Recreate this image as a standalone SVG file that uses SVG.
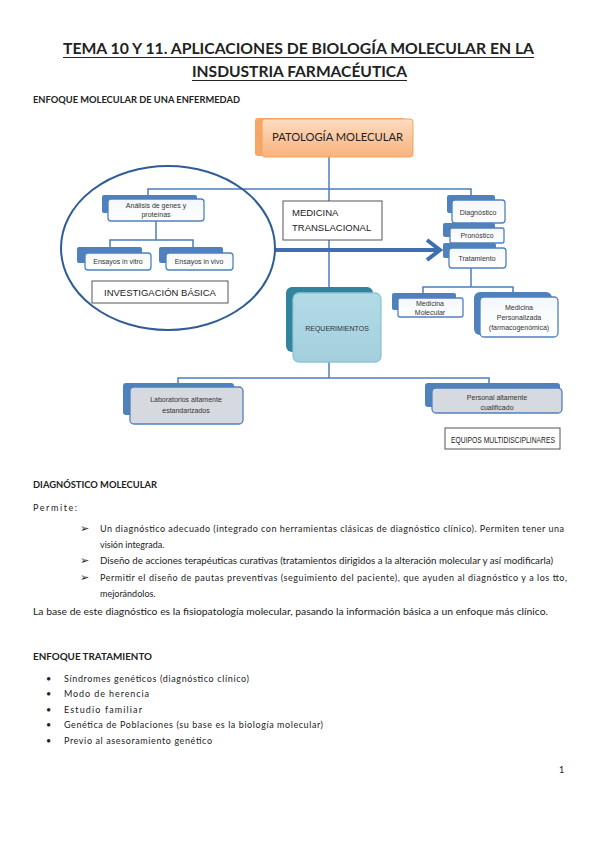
<svg xmlns="http://www.w3.org/2000/svg" width="599" height="848" viewBox="0 0 599 848">
<defs>
<linearGradient id="og" x1="0" y1="0" x2="0" y2="1"><stop offset="0" stop-color="#fddcc2"/><stop offset="1" stop-color="#f9b27c"/></linearGradient>
<linearGradient id="bg" x1="0" y1="0" x2="0" y2="1"><stop offset="0" stop-color="#f4f7fb"/><stop offset="1" stop-color="#ffffff"/></linearGradient>
<linearGradient id="tg" x1="0" y1="0" x2="0" y2="1"><stop offset="0" stop-color="#b2dbe6"/><stop offset="1" stop-color="#a3cfdd"/></linearGradient>
<style>
.t{font-family:Lato,"Liberation Sans",sans-serif;fill:#222}
.b{font-weight:bold}
.s{font-family:"Liberation Sans",sans-serif;font-size:7px;fill:#333;text-anchor:middle}
.back{fill:#4f81bd}
.front{fill:url(#bg);stroke:#4f81bd;stroke-width:1.3}
.grey{fill:#d6d9df;stroke:#4f81bd;stroke-width:1.3}
.lbl{fill:#fff;stroke:#555;stroke-width:1}
.lt{font-family:"Liberation Sans",sans-serif;font-size:9.5px;fill:#222}
.con{fill:none;stroke:#4a7ebb;stroke-width:1.5}
.chev{font-family:"DejaVu Sans",sans-serif;font-size:11px;fill:#222}
</style>
</defs>
<rect width="599" height="848" fill="#fff"/>

<g id="title">
<text class="t b" x="63" y="54" font-size="15.5" textLength="471" lengthAdjust="spacingAndGlyphs">TEMA 10 Y 11. APLICACIONES DE BIOLOGÍA MOLECULAR EN LA</text>
<line x1="63" y1="57.5" x2="534" y2="57.5" stroke="#222" stroke-width="1"/>
<text class="t b" x="192" y="77" font-size="15.5" textLength="215" lengthAdjust="spacingAndGlyphs">INSDUSTRIA FARMACÉUTICA</text>
<line x1="192" y1="80.5" x2="407" y2="80.5" stroke="#222" stroke-width="1"/>
<text class="t b" x="33" y="103" font-size="8.5" textLength="207" lengthAdjust="spacingAndGlyphs">ENFOQUE MOLECULAR DE UNA ENFERMEDAD</text>
</g>

<g id="connectors">
<line class="con" x1="329" y1="157" x2="329" y2="288"/>
<polyline class="con" points="148,199 148,189 471,189 471,196"/>
<line class="con" x1="156" y1="221" x2="156" y2="240"/>
<polyline class="con" points="110,248 110,240 193,240 193,248"/>
<line class="con" x1="471" y1="268" x2="471" y2="287"/>
<polyline class="con" points="423,294 423,287 513,287 513,293"/>
<line class="con" x1="329" y1="362" x2="329" y2="378"/>
<polyline class="con" points="178,384 178,378 489,378 489,384"/>
<line x1="275" y1="250" x2="439" y2="250" stroke="#3f6fb0" stroke-width="4"/>
<polyline points="427,240 440,250 427,260" fill="none" stroke="#3f6fb0" stroke-width="4" stroke-linejoin="miter"/>
</g>

<g id="investigacion">
<ellipse cx="168" cy="248" rx="107" ry="82" fill="none" stroke="#2f5d96" stroke-width="2"/>
</g>

<g id="patologia">
<rect x="255" y="118" width="150" height="38" rx="3" fill="#f6a766"/>
<rect x="262" y="119" width="151" height="38" rx="3" fill="url(#og)" stroke="#f5a35f" stroke-width="1"/>
<text class="t" x="337.5" y="141" font-size="10.5" text-anchor="middle" textLength="131" lengthAdjust="spacingAndGlyphs">PATOLOGÍA MOLECULAR</text>
</g>

<g id="analisis">
<rect class="back" x="102" y="195" width="95" height="18" rx="2"/>
<rect class="front" x="108" y="199" width="96" height="22" rx="3"/>
<text class="s" x="156" y="208">Análisis de genes y</text>
<text class="s" x="156" y="217">proteínas</text>
</g>

<g id="invitro">
<rect class="back" x="77" y="247" width="65" height="16" rx="2"/>
<rect class="front" x="85" y="253" width="66" height="17" rx="3"/>
<text class="s" x="118" y="264">Ensayos in vitro</text>
</g>

<g id="invivo">
<rect class="back" x="159" y="247" width="64" height="16" rx="2"/>
<rect class="front" x="166" y="253" width="67" height="17" rx="3"/>
<text class="s" x="199" y="264">Ensayos in vivo</text>
</g>

<g id="invbasica">
<rect class="lbl" x="92" y="281" width="136" height="22"/>
<text class="lt" x="160" y="296" text-anchor="middle">INVESTIGACIÓN BÁSICA</text>
</g>

<g id="medtrans">
<rect class="lbl" x="283" y="201" width="99" height="39"/>
<text class="lt" x="292" y="216">MEDICINA</text>
<text class="lt" x="292" y="231">TRANSLACIONAL</text>
</g>

<g id="diagnostico">
<rect class="back" x="447" y="195" width="48" height="18" rx="2"/>
<rect class="front" x="452" y="200" width="53" height="23" rx="3"/>
<text class="s" x="478" y="215">Diagnóstico</text>
</g>

<g id="pronostico">
<rect class="back" x="443" y="223" width="52" height="14" rx="2"/>
<rect class="front" x="450" y="228" width="54" height="15" rx="2"/>
<text class="s" x="477" y="238">Pronóstico</text>
</g>

<g id="tratamiento">
<rect class="back" x="443" y="243" width="53" height="15" rx="2"/>
<rect class="front" x="449" y="248" width="57" height="20" rx="3"/>
<text class="s" x="477" y="261">Tratamiento</text>
</g>

<g id="medmol">
<rect class="back" x="392" y="293" width="64" height="17" rx="2"/>
<rect class="front" x="398" y="298" width="65" height="19" rx="2"/>
<text class="s" x="430" y="306">Medicina</text>
<text class="s" x="430" y="315">Molecular</text>
</g>

<g id="medpers">
<rect class="back" x="474" y="292" width="78" height="43" rx="6"/>
<rect class="front" x="480" y="297" width="78" height="40" rx="4"/>
<text class="s" x="519" y="310" fill="#111">Medicina</text>
<text class="s" x="519" y="320" fill="#666">Personalizada</text>
<text class="s" x="519" y="330">(farmacogenómica)</text>
</g>

<g id="requerimientos">
<rect x="286" y="287" width="87" height="65" rx="6" fill="#31849b"/>
<rect x="293" y="293" width="88" height="69" rx="6" fill="url(#tg)" stroke="#8fc3d6" stroke-width="1.3"/>
<text class="s" x="337" y="331" font-size="8">REQUERIMIENTOS</text>
</g>

<g id="laboratorios">
<rect class="back" x="123" y="383" width="111" height="32" rx="3"/>
<rect class="grey" x="130" y="387" width="113" height="37" rx="4"/>
<text class="s" x="186" y="402">Laboratorios altamente</text>
<text class="s" x="186" y="413">estandarizados</text>
</g>

<g id="personal">
<rect class="back" x="425" y="383" width="135" height="24" rx="3"/>
<rect class="grey" x="432" y="388" width="130" height="25" rx="4"/>
<text class="s" x="497" y="400">Personal altamente</text>
<text class="s" x="497" y="410">cualificado</text>
</g>

<g id="equipos">
<rect class="lbl" x="445" y="428" width="115" height="21"/>
<text class="lt" x="451" y="442.5" font-size="9.5" textLength="104" lengthAdjust="spacingAndGlyphs">EQUIPOS MULTIDISCIPLINARES</text>
</g>

<g id="body">
<text class="t b" x="33" y="488" font-size="8.5" textLength="124" lengthAdjust="spacingAndGlyphs">DIAGNÓSTICO MOLECULAR</text>
<text class="t" x="33" y="511" font-size="9" textLength="44" lengthAdjust="spacing">Permite:</text>
<text class="chev" x="80" y="532">➢</text>
<text class="t" x="100" y="532" font-size="9" textLength="464" lengthAdjust="spacing">Un diagnóstico adecuado (integrado con herramientas clásicas de diagnóstico clínico). Permiten tener una</text>
<text class="t" x="100" y="548" font-size="9">visión integrada.</text>
<text class="chev" x="80" y="564">➢</text>
<text class="t" x="100" y="564" font-size="9" textLength="453" lengthAdjust="spacingAndGlyphs">Diseño de acciones terapéuticas curativas (tratamientos dirigidos a la alteración molecular y así modificarla)</text>
<text class="chev" x="80" y="581">➢</text>
<text class="t" x="100" y="581" font-size="9" textLength="467" lengthAdjust="spacing">Permitir el diseño de pautas preventivas (seguimiento del paciente), que ayuden al diagnóstico y a los tto,</text>
<text class="t" x="100" y="597" font-size="9">mejorándolos.</text>
<text class="t" x="33" y="615" font-size="9" textLength="515" lengthAdjust="spacingAndGlyphs">La base de este diagnóstico es la fisiopatología molecular, pasando la información básica a un enfoque más clínico.</text>

<text class="t b" x="33" y="660" font-size="8.5" textLength="119" lengthAdjust="spacingAndGlyphs">ENFOQUE TRATAMIENTO</text>
<g font-family="Lato,sans-serif" font-size="9" fill="#222">
<text x="46" y="682">•</text>
<text x="46" y="697">•</text>
<text x="46" y="713">•</text>
<text x="46" y="728">•</text>
<text x="46" y="744">•</text>
</g>
<text class="t" x="64" y="682" font-size="9" textLength="185" lengthAdjust="spacing">Síndromes genéticos (diagnóstico clínico)</text>
<text class="t" x="64" y="697" font-size="9" textLength="85" lengthAdjust="spacing">Modo de herencia</text>
<text class="t" x="64" y="713" font-size="9" textLength="78" lengthAdjust="spacing">Estudio familiar</text>
<text class="t" x="64" y="728" font-size="9" textLength="259" lengthAdjust="spacing">Genética de Poblaciones (su base es la biología molecular)</text>
<text class="t" x="64" y="744" font-size="9" textLength="148" lengthAdjust="spacing">Previo al asesoramiento genético</text>
<text class="t" x="559" y="773" font-size="9">1</text>
</g>
</svg>
